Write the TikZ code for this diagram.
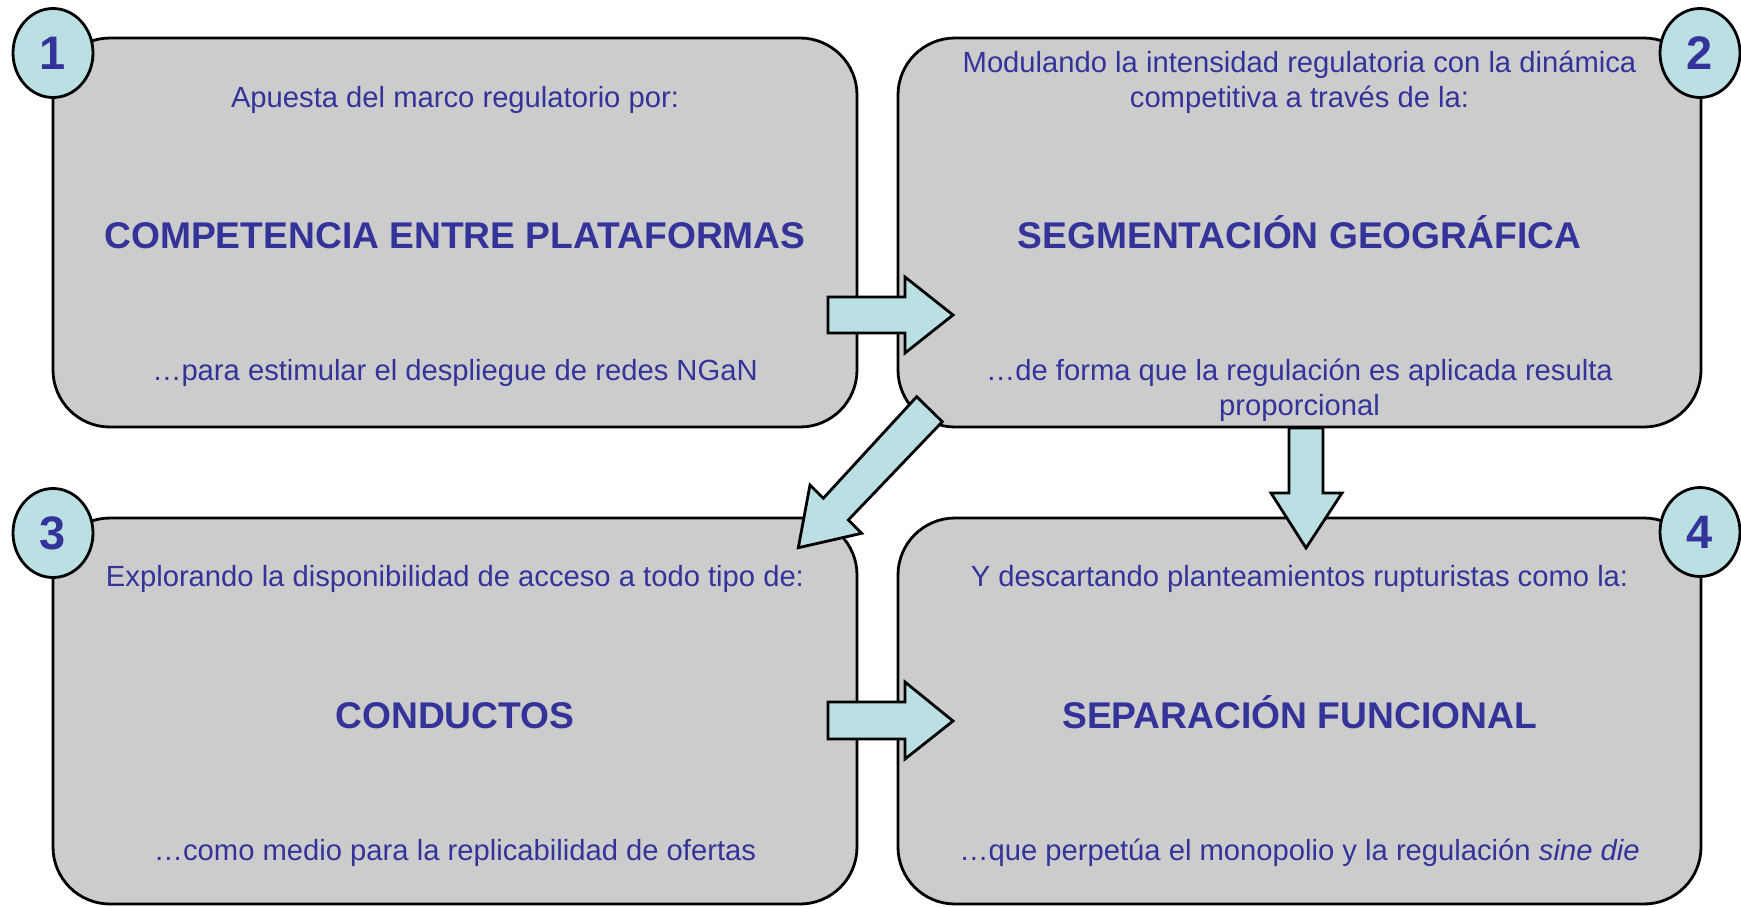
\documentclass[tikz,border=0pt]{standalone}
\usepackage{fontspec}
\setmainfont{Liberation Sans}
\usetikzlibrary{shapes.geometric}
\definecolor{txt}{RGB}{51,51,153}
\definecolor{boxgray}{RGB}{204,204,204}
\definecolor{lblue}{RGB}{187,224,227}
\begin{document}
\begin{tikzpicture}[x=1pt,y=-1pt,
  panel/.style={draw=black,fill=boxgray,line width=2.8pt,rounded corners=57pt,minimum width=804pt,inner sep=0pt},
  badge/.style={draw=black,fill=lblue,line width=2.8pt,ellipse,minimum width=80pt,minimum height=89pt,inner sep=0pt,
    text=txt,font=\fontsize{47}{50}\selectfont\bfseries},
  blockarrow/.style={draw=black,fill=lblue,line width=2.8pt,line join=miter},
  small/.style={text=txt,font=\fontsize{29.2}{35}\selectfont,align=center,anchor=base,inner sep=0pt},
  big/.style={text=txt,font=\fontsize{37.2}{40}\selectfont\bfseries,align=center,anchor=base,inner sep=0pt}]
\useasboundingbox (0,0) rectangle (1741,906);
% panels
\node[panel,minimum height=389pt] (b1) at (455,232.5) {};
\node[panel,minimum height=389pt,minimum width=803pt] (b2) at (1299.5,232.5) {};
\node[panel,minimum height=386pt] (b3) at (455,711) {};
\node[panel,minimum height=386pt,minimum width=803pt] (b4) at (1299.5,711) {};
% block arrows
\draw[blockarrow] (828,297) -- (905,297) -- (905,277) -- (953,315) -- (905,353) -- (905,333) -- (828,333) -- cycle;
\draw[blockarrow] (828,702) -- (905,702) -- (905,682) -- (953,721) -- (905,759) -- (905,739) -- (828,739) -- cycle;
\draw[blockarrow] (1289,428) -- (1323,428) -- (1323,493) -- (1342,493) -- (1306,548) -- (1271,493) -- (1289,493) -- cycle;
\draw[blockarrow] (916.7,396.7) -- (942.3,421.7) -- (848.3,520) -- (861.7,533.3) -- (798.3,547.7) -- (810,485) -- (823.3,498.3) -- cycle;
% badges
\node[badge] (n1) at (53,53) {1};
\node[badge] (n2) at (1700,53) {2};
\node[badge] (n3) at (53,533) {3};
\node[badge] (n4) at (1700,532) {4};
% texts box 1
\node[small] (t1a) at (455,107) {Apuesta del marco regulatorio por:};
\node[big] (t1b) at (455,248) {COMPETENCIA ENTRE PLATAFORMAS};
\node[small] (t1c) at (455,380) {…para estimular el despliegue de redes NGaN};
% texts box 2 (base anchor = last line)
\node[small] (t2a) at (1299.5,107) {Modulando la intensidad regulatoria con la dinámica\\competitiva a través de la:};
\node[big] (t2b) at (1299.5,248) {SEGMENTACIÓN GEOGRÁFICA};
\node[small] (t2c) at (1299.5,415) {…de forma que la regulación es aplicada resulta\\proporcional};
% texts box 3
\node[small] (t3a) at (455,586) {Explorando la disponibilidad de acceso a todo tipo de:};
\node[big] (t3b) at (455,728) {CONDUCTOS};
\node[small] (t3c) at (455,860) {…como medio para la replicabilidad de ofertas};
% texts box 4
\node[small] (t4a) at (1299.5,586) {Y descartando planteamientos rupturistas como la:};
\node[big] (t4b) at (1299.5,728) {SEPARACIÓN FUNCIONAL};
\node[small] (t4c) at (1299.5,860) {…que perpetúa el monopolio y la regulación \textit{sine die}};
\end{tikzpicture}
\end{document}
